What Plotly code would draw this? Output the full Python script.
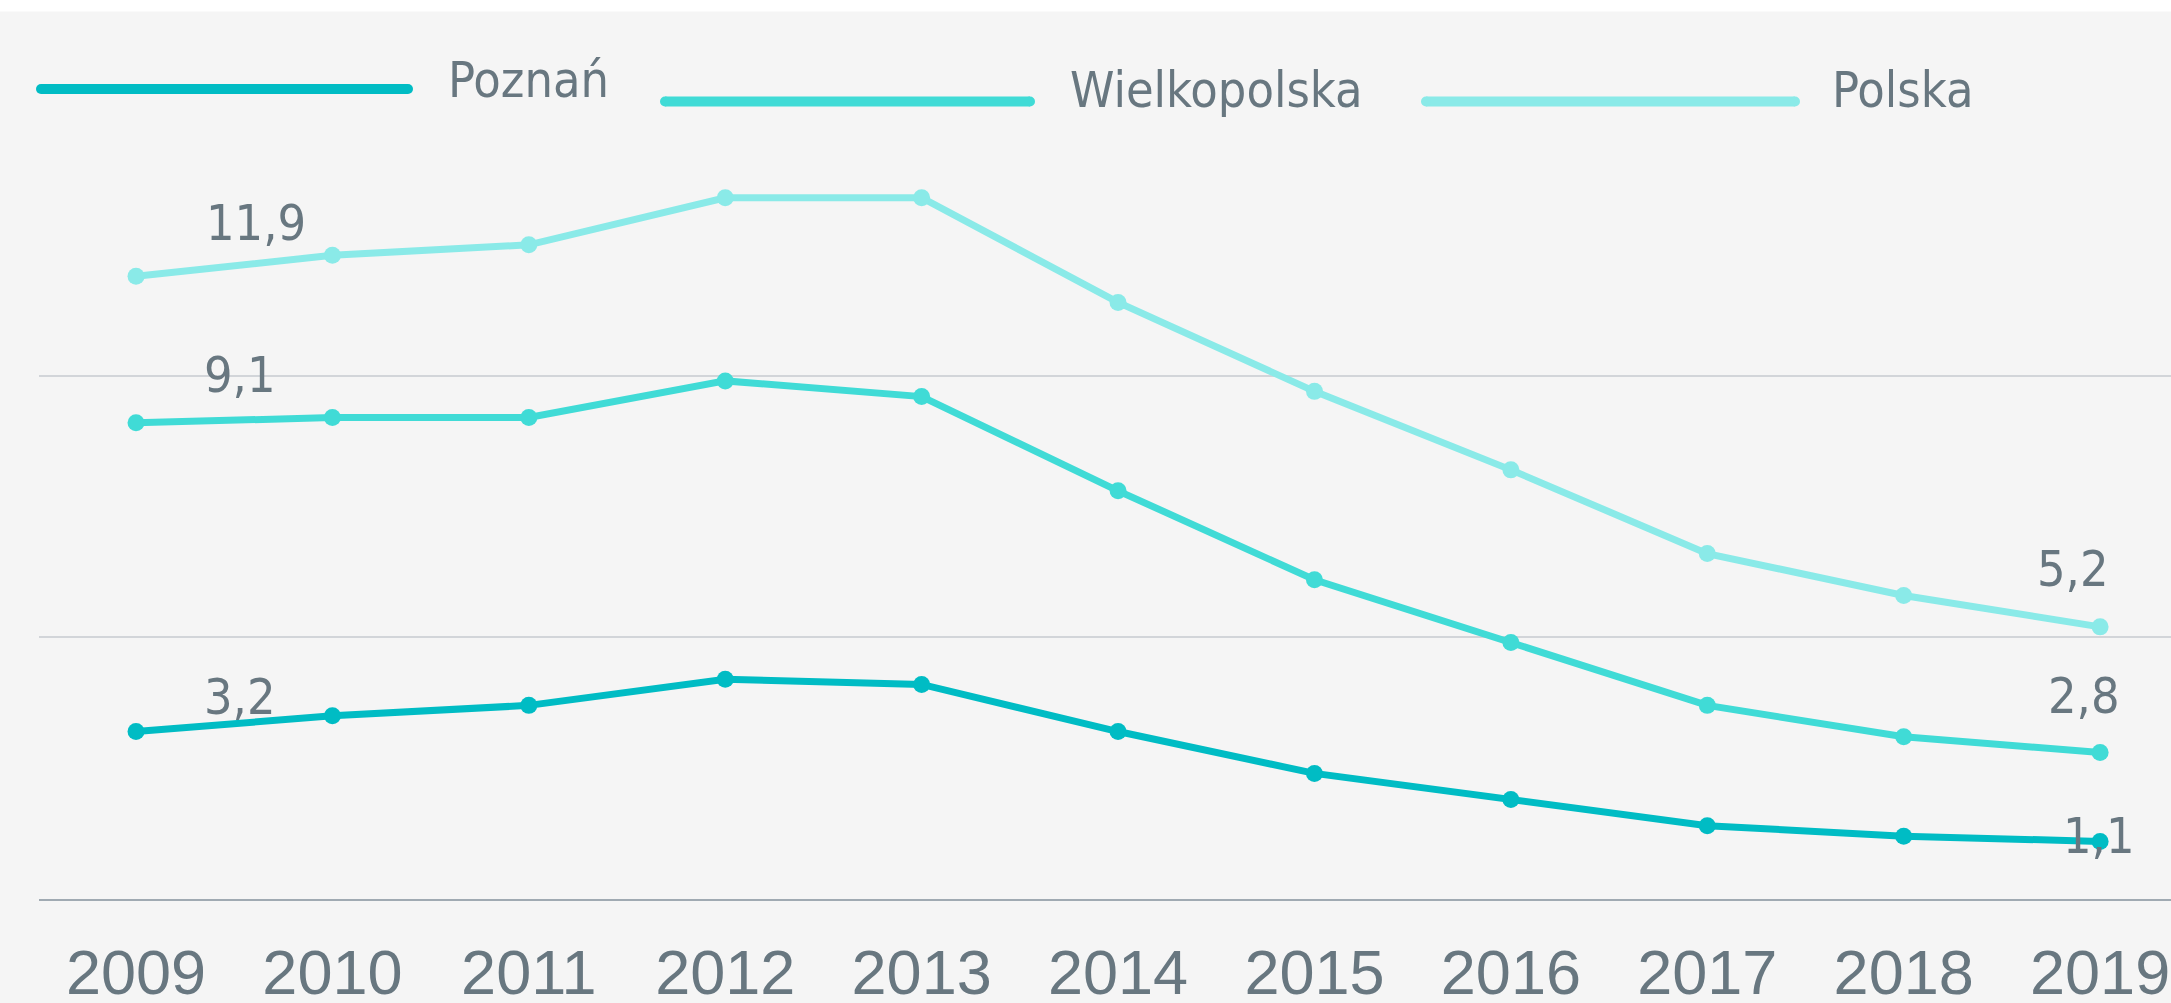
import plotly.graph_objects as go

years = [2009, 2010, 2011, 2012, 2013, 2014, 2015, 2016, 2017, 2018, 2019]
poznan = [3.2, 3.5, 3.7, 4.2, 4.1, 3.2, 2.4, 1.9, 1.4, 1.2, 1.1]
wielkopolska = [9.1, 9.2, 9.2, 9.9, 9.6, 7.8, 6.1, 4.9, 3.7, 3.1, 2.8]
polska = [11.9, 12.3, 12.5, 13.4, 13.4, 11.4, 9.7, 8.2, 6.6, 5.8, 5.2]
series_names = ["Poznań", "Wielkopolska", "Polska"]
tick_labels = [str(y) for y in years]

colors = ["#00bcc4", "#40dbd6", "#8aeae8"]
text_color = "#687780"
label_font = "Liberation Sans Narrow, DejaVu Sans Condensed, sans-serif"

W, H = 2171, 1003
ML, MR, MT, MB = 39, 0, 113.5, 104.4
PW = W - ML - MR
PH = H - MT - MB

fig = go.Figure()
all_series = [poznan, wielkopolska, polska]
for name, vals, col in zip(series_names, all_series, colors):
    fig.add_trace(go.Scatter(
        x=years, y=vals, name=name, mode="lines+markers",
        line=dict(color=col, width=7),
        marker=dict(color=col, size=17),
        cliponaxis=False, showlegend=False,
    ))

# value labels at first and last points
first_shift = [(66, 35), (66, 48), (68, 53)]
last_shift = [(-1, 5), (-16, 56), (-27, 58)]
annotations = []
for i, vals in enumerate(all_series):
    v0 = vals[0]
    annotations.append(dict(
        x=years[0], y=v0, xref="x", yref="y", text=f"{v0:.1f}".replace(".", ","),
        showarrow=False, xanchor="left", yanchor="middle",
        xshift=first_shift[i][0], yshift=first_shift[i][1],
        font=dict(family=label_font, size=50, color=text_color)))
    v1 = vals[-1]
    annotations.append(dict(
        x=years[-1], y=v1, xref="x", yref="y", text=f"{v1:.1f}".replace(".", ","),
        showarrow=False, xanchor="center", yanchor="middle",
        xshift=last_shift[i][0], yshift=last_shift[i][1],
        font=dict(family=label_font, size=50, color=text_color)))

# custom legend
legend_lines = [(2, 369, 25), (626, 991, 12.5), (1387, 1756, 12.5)]
legend_text = [(446, 79), (1068, 89), (1830, 89)]
shapes = []
# white top strip
top = 1 + MT / PH
shapes.append(dict(type="rect", xref="paper", yref="paper", x0=-0.05, x1=1.05,
                   y0=top - 11 / PH, y1=top + 0.01, fillcolor="white",
                   line=dict(width=0), layer="below"))
for (x0, x1, dy), col, name, (tx, ty) in zip(legend_lines, colors, series_names, legend_text):
    shapes.append(dict(type="line", xref="paper", yref="paper",
                       xsizemode="pixel", ysizemode="pixel", xanchor=0, yanchor=1,
                       x0=x0, x1=x1, y0=dy, y1=dy,
                       line=dict(color=col, width=10)))
    for xc in (x0, x1):
        shapes.append(dict(type="circle", xref="paper", yref="paper",
                           xsizemode="pixel", ysizemode="pixel", xanchor=0, yanchor=1,
                           x0=xc - 5, x1=xc + 5, y0=dy - 5, y1=dy + 5,
                           fillcolor=col, line=dict(width=0)))
    annotations.append(dict(
        x=(tx - ML) / PW, y=1 + (MT - ty) / PH, xref="paper", yref="paper",
        text=name, showarrow=False, xanchor="left", yanchor="middle",
        font=dict(family=label_font, size=50, color=text_color)))

fig.update_layout(
    width=W, height=H,
    margin=dict(l=ML, r=MR, t=MT, b=MB, autoexpand=False),
    paper_bgcolor="#f5f5f5", plot_bgcolor="#f5f5f5",
    shapes=shapes, annotations=annotations,
    showlegend=False,
)
fig.update_xaxes(
    range=[2008.506, 2019.361], tickmode="array", tickvals=years, ticktext=tick_labels,
    showgrid=False, zeroline=False, showline=True, linecolor="#a0aab2", linewidth=2,
    ticks="", ticklabelstandoff=17, automargin=False, ticklabeloverflow="allow",
    tickfont=dict(family="Liberation Sans, Arial, sans-serif", size=63, color=text_color),
)
fig.update_yaxes(
    range=[0, 15.0001], dtick=5, tick0=0, showticklabels=False, showgrid=True,
    gridcolor="#d2d5d9", gridwidth=1.5, zeroline=False, showline=False, automargin=False,
)

fig.write_html("out.html", config={"displayModeBar": False},
               post_script="document.body.style.margin='0';document.body.style.overflow='hidden';")
